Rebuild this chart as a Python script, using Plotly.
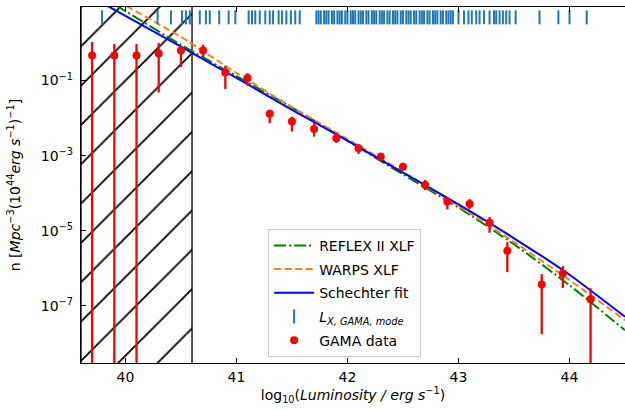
import numpy as np
import plotly.graph_objects as go

# ---------------- data ----------------
# GAMA binned X-ray luminosity function (linear n, with upper/lower bounds)
gama_lum = [39.70, 39.90, 40.10, 40.30, 40.50, 40.70, 40.90, 41.10, 41.30, 41.50,
            41.70, 41.90, 42.10, 42.30, 42.50, 42.70, 42.90, 43.10, 43.28, 43.44,
            43.75, 43.94, 44.19]
gama_n = [0.465, 0.465, 0.465, 0.525, 0.631, 0.631, 0.1633, 0.1159, 0.01294, 0.00807,
          0.00515, 0.00291, 0.001574, 0.00094, 0.000509, 0.0001656, 5.93e-5, 5.15e-5,
          1.633e-5, 2.93e-6, 3.72e-7, 7.31e-7, 1.51e-7]
gama_n_upper = [1.057, 0.935, 0.935, 0.993, 0.807, 0.895, 0.2466, 0.1574, 0.0166, 0.01096,
                0.00745, 0.00403, 0.00205, 0.0012, 0.00065, 0.000225, 8.07e-5, 7.0e-5,
                2.32e-5, 5.0e-6, 7.0e-7, 1.15e-6, 2.96e-7]
gama_n_lower = [0.0, 0.0, 0.0, 0.0479, 0.2275, 0.4207, 0.0589, 0.0724, 0.00731, 0.00437,
                0.00321, 0.00218, 0.00111, 0.000736, 0.000398, 0.0001216, 3.72e-5, 3.8e-5,
                8.85e-6, 7.9e-7, 1.76e-8, 3.0e-7, 0.0]

# model curves (log10 n at given log10 L)
curve_lum = [39.6, 40.0, 40.5, 41.0, 41.5, 42.0, 42.5, 43.0, 43.5, 44.0, 44.5]
schechter_log_n = [1.38, 0.72, -0.10, -0.93, -1.78, -2.60, -3.45, -4.30, -5.20, -6.17, -7.29]
warps_log_n = [1.68, 1.00, 0.16, -0.80, -1.71, -2.56, -3.43, -4.34, -5.30, -6.31, -7.38]
reflex_log_n = [1.55, 0.85, -0.05, -0.88, -1.72, -2.60, -3.50, -4.38, -5.36, -6.45, -7.65]

# individual GAMA luminosity modes (rug at the top)
rug_lum = [39.79, 40.29, 40.41, 40.51, 40.545, 40.58, 40.67, 40.725, 40.76, 40.845,
           40.93, 40.99, 41.11, 41.14, 41.17, 41.21, 41.26, 41.30, 41.33, 41.38,
           41.41, 41.45, 41.49, 41.53, 41.57,
           41.72, 41.74, 41.76, 41.79, 41.81, 41.83, 41.86, 41.88, 41.91, 41.93,
           41.95, 41.98, 42.00, 42.03, 42.05, 42.07, 42.10, 42.12, 42.14, 42.17,
           42.19, 42.22, 42.24, 42.26, 42.29, 42.31, 42.33, 42.36, 42.38, 42.41,
           42.43, 42.45, 42.48, 42.50, 42.53, 42.55, 42.57, 42.60, 42.62, 42.65,
           42.67, 42.69, 42.72, 42.74, 42.77, 42.79, 42.81, 42.84, 42.86, 42.89,
           42.91, 42.93,
           42.95, 43.00, 43.05, 43.09, 43.12, 43.16, 43.19, 43.23, 43.28, 43.32,
           43.34, 43.37, 43.40, 43.43, 43.46, 43.515, 43.73, 43.90, 44.00, 44.155]
rug_level = 4.8

# excluded (hatched) luminosity range
excluded_lum = [39.6, 40.6]

x_range = [39.6, 44.5]
y_log_range = [-8.52, 0.957]
x_tick_vals = [40, 41, 42, 43, 44]
y_tick_vals = [1e-7, 1e-5, 1e-3, 1e-1]
y_tick_text = ["10<sup>−7</sup>", "10<sup>−5</sup>", "10<sup>−3</sup>", "10<sup>−1</sup>"]

# ---------------- figure ----------------
FONT = "DejaVu Sans"
fig = go.Figure()

# hatched excluded region
fig.add_trace(go.Scatter(
    x=[excluded_lum[0], excluded_lum[1], excluded_lum[1], excluded_lum[0], excluded_lum[0]],
    y=[1e-12, 1e-12, 1e3, 1e3, 1e-12],
    mode="lines", fill="toself",
    fillcolor="rgba(0,0,0,0)",
    fillpattern=dict(shape="/", fgcolor="black", bgcolor="rgba(0,0,0,0)",
                     size=27.8, solidity=0.065, fgopacity=1),
    line=dict(color="black", width=1.3),
    showlegend=False, hoverinfo="skip"))

fig.add_trace(go.Scatter(
    x=curve_lum, y=np.power(10.0, reflex_log_n), mode="lines",
    line=dict(color="green", width=2, dash="12px,3px,2px,3px", shape="spline", smoothing=0.6),
    name="REFLEX II XLF", legendgroup="a"))
fig.add_trace(go.Scatter(
    x=curve_lum, y=np.power(10.0, warps_log_n), mode="lines",
    line=dict(color="#ff7f0e", width=2, dash="7px,3.5px", shape="spline", smoothing=0.6),
    name="WARPS XLF", legendgroup="b"))
fig.add_trace(go.Scatter(
    x=curve_lum, y=np.power(10.0, schechter_log_n), mode="lines",
    line=dict(color="blue", width=2, shape="spline", smoothing=0.6),
    name="Schechter fit", legendgroup="c"))
fig.add_trace(go.Scatter(
    x=rug_lum, y=[rug_level] * len(rug_lum), mode="markers",
    marker=dict(symbol="line-ns", size=10, line=dict(color="#1f77b4", width=2), color="#1f77b4"),
    name="<i>L</i><sub><i>X, GAMA, mode</i></sub>", legendgroup="d"))

err_plus = [u - n for u, n in zip(gama_n_upper, gama_n)]
err_minus = [n - l for n, l in zip(gama_n, gama_n_lower)]
fig.add_trace(go.Scatter(
    x=gama_lum, y=gama_n, mode="markers",
    marker=dict(symbol="circle", size=8, color="red"),
    error_y=dict(type="data", symmetric=False, array=err_plus, arrayminus=err_minus,
                 color="red", thickness=2.3, width=0),
    name="GAMA data", legendgroup="e"))

axis_common = dict(showgrid=False, zeroline=False, ticks="inside", ticklen=5, tickwidth=1.3,
                   tickcolor="black", linecolor="black", linewidth=1.3, automargin=False,
                   tickfont=dict(family=FONT, size=14, color="black"))

fig.update_layout(
    width=625, height=410,
    margin=dict(l=81, r=0, t=7, b=47, autoexpand=False),
    paper_bgcolor="white", plot_bgcolor="white",
    font=dict(family=FONT, size=14, color="black"),
    showlegend=True,
    legend=dict(x=0.344, y=0.377, xanchor="left", yanchor="top",
                bgcolor="rgba(255,255,255,0.8)", bordercolor="#cccccc", borderwidth=1,
                font=dict(family=FONT, size=14, color="black"),
                traceorder="grouped", tracegroupgap=2.5, itemwidth=40),
    xaxis=dict(range=x_range, tickvals=x_tick_vals, showline=True, mirror="ticks",
               ticklabelstandoff=1,
               title=dict(text="log<sub>10</sub>(<i>Luminosity / erg s</i><sup>−1</sup>)",
                          font=dict(family=FONT, size=14, color="black"), standoff=6),
               **axis_common),
    yaxis=dict(type="log", range=y_log_range, tickvals=y_tick_vals, ticktext=y_tick_text,
               showline=True, mirror=False, ticklabelstandoff=4,
               title=dict(text="n [<i>Mpc</i><sup>−3</sup>(10<sup>44</sup><i>erg s</i><sup>−1</sup>)<sup>−1</sup>]",
                          font=dict(family=FONT, size=14, color="black"), standoff=16),
               **axis_common),
    yaxis2=dict(type="log", range=y_log_range, tickvals=y_tick_vals, overlaying="y",
                side="right", anchor="x", showline=False, showticklabels=False,
                showgrid=False, zeroline=False, ticks="inside", ticklen=5, tickwidth=1.3,
                tickcolor="black"),
)

fig.write_html("out.html", config={"displayModeBar": False},
               post_script="document.body.style.margin='0';document.body.style.overflow='hidden';")
